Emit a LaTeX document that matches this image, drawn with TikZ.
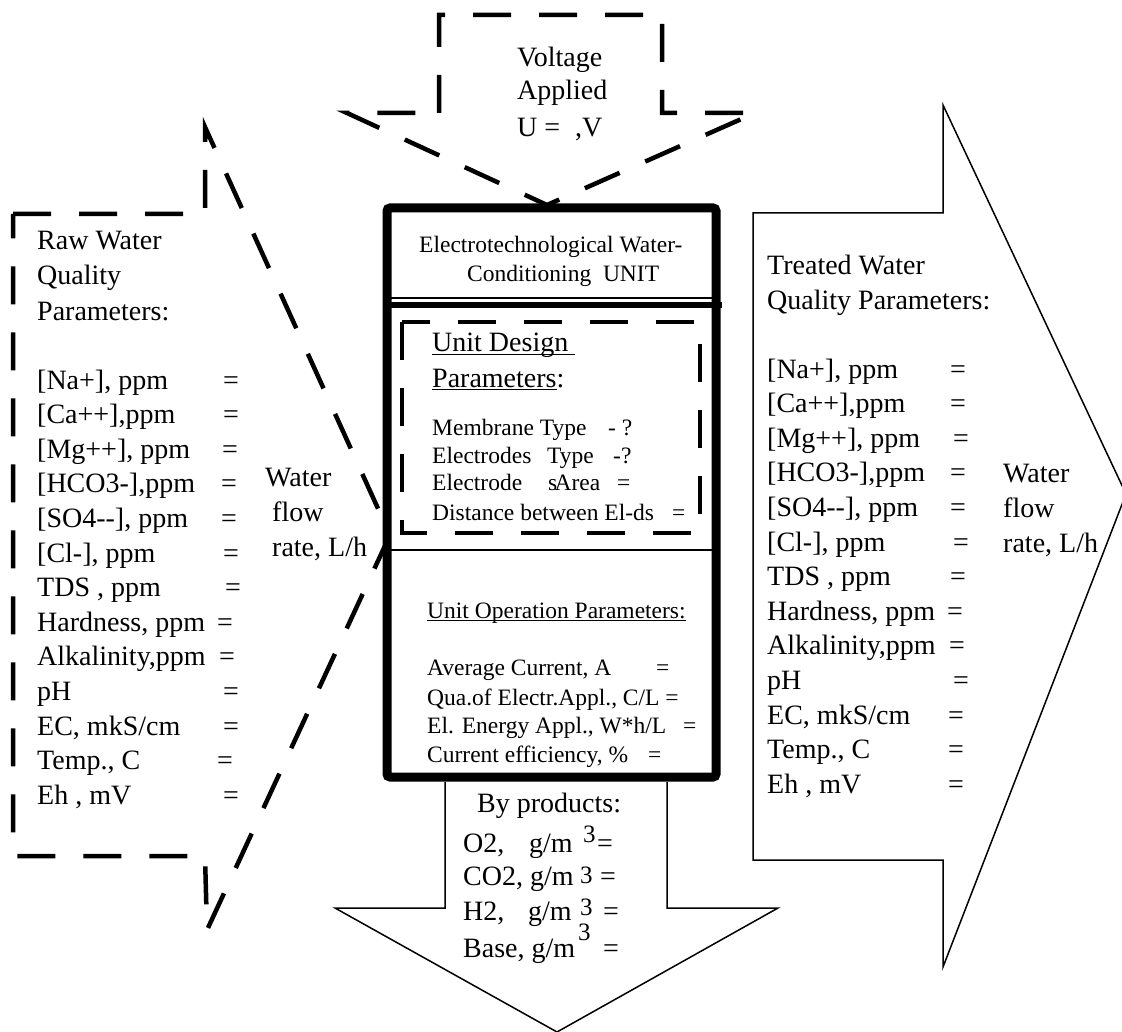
\documentclass[tikz,border=0pt]{standalone}
\usepackage{fontspec}
\setmainfont{Liberation Serif}
\newcommand\ulx[1]{\setbox0\hbox{#1}\rlap{\rule[-3pt]{\wd0}{1.2pt}}\box0}
\begin{document}
\begin{tikzpicture}[x=1pt,y=-1pt,
  txt/.style={anchor=base west, inner sep=0pt, font=\fontsize{28}{34}\selectfont},
  stxt/.style={anchor=base west, inner sep=0pt, font=\fontsize{23.5}{28}\selectfont},
  sup/.style={anchor=base west, inner sep=0pt, font=\fontsize{25}{30}\selectfont},
  dsh/.style={line width=4.5pt, dash pattern=on 38pt off 28pt, line join=miter},
  thinarrow/.style={line width=1.5pt, line join=miter}]
\useasboundingbox (0,0) rectangle (1122,1032);
\clip (0,0) rectangle (1122,1032);

% right (treated water) arrow
\draw[thinarrow, fill=white] (753,213) -- (943,213) -- (943,105) -- (1126,494) -- (943,967) -- (943,860) -- (753,860) -- cycle;
% bottom (by-products) arrow
\draw[thinarrow, fill=white] (445,782) -- (445,908) -- (335,908) -- (557,1032) -- (778,908) -- (667,908) -- (667,782);
% top (voltage) arrow
\draw[dsh] (439,113) -- (439,15) -- (662,15) -- (662,113) -- (755,113) -- (547,205) -- (347,113) -- cycle;
% left (raw water) arrow
\draw[dsh] (13,214) -- (205,214) -- (205,127) -- (390,535) -- (207,930) -- (205,856) -- (13,856) -- cycle;

% central unit box
\draw[line width=9pt, fill=white, rounded corners=3pt] (387,208) rectangle (716,777);
\draw[line width=1.3pt] (391,298) -- (712,298);
\draw[line width=6.5pt] (387,305) -- (722,305);
\draw[line width=1.3pt] (391,550) -- (712,550);
\draw[line width=4pt, dash pattern=on 38pt off 28pt, line join=miter] (402,322) rectangle (700,533);

% top texts
\node[txt] (v1) at (517,67) {Voltage};
\node[txt] (v2) at (517,100) {Applied};
\node[txt] (v3) at (517,137) {U =};
\node[txt] (v4) at (575,137) {,V};

% unit title
\node[stxt] (t1) at (419,253) {Electrotechnological Water-};
\node[stxt] (t2) at (467,282) {Conditioning\ \ UNIT};

% design parameters
\node[txt] (d1) at (432,352) {\ulx{Unit Design\ }};
\node[txt] (d2) at (432,387) {\ulx{Parameters}:};
\node[stxt] (d3) at (432,435) {Membrane Type};
\node[stxt] (d3e) at (608,435) {- ?};
\node[stxt] (d4) at (432,463) {Electrodes};
\node[stxt] (d4b) at (547,463) {Type};
\node[stxt] (d4e) at (613,463) {-?};
\node[stxt] (d5) at (432,490) {Electrode};
\node[stxt] (d5b) at (548,490) {s\kern-0.12em Area};
\node[stxt] (d5e) at (617,490) {=};
\node[stxt] (d6) at (432,520) {Distance between El-ds};
\node[stxt] (d6e) at (672,520) {=};

% operation parameters
\node[stxt] (o0) at (427,618) {\ulx{Unit Operation Parameters:}};
\node[stxt] (o1) at (427,675) {Average Current, A};
\node[stxt] (o1e) at (656,675) {=};
\node[stxt] (o2) at (427,705) {Qua.of Electr.Appl., C/L =};
\node[stxt] (o3) at (427,733) {El. Energy Appl., W*h/L};
\node[stxt] (o3e) at (683,733) {=};
\node[stxt] (o4) at (427,762) {Current efficiency, \%};
\node[stxt] (o4e) at (648,762) {=};

% by-products
\node[txt] (b0) at (477,812) {By products:};
\node[txt] (b1) at (463,852) {O2,};
\node[txt] (b1b) at (529,852) {g/m};
\node[sup] (b1s) at (583,842) {3};
\node[txt] (b1e) at (597,852) {=};
\node[txt] (b2) at (463,885) {CO2, g/m};
\node[sup] (b2s) at (580,883) {3};
\node[txt] (b2e) at (600,885) {=};
\node[txt] (b3) at (463,920) {H2,};
\node[txt] (b3b) at (528,920) {g/m};
\node[sup] (b3s) at (580,915) {3};
\node[txt] (b3e) at (603,920) {=};
\node[txt] (b4) at (463,957) {Base, g/m};
\node[sup] (b4s) at (578,940) {3};
\node[txt] (b4e) at (603,957) {=};

% raw water parameters
\node[txt] (r1) at (37,250) {Raw Water};
\node[txt] (r2) at (37,285) {Quality};
\node[txt] (r3) at (37,320) {Parameters:};
\node[txt] (ra) at (37,389) {[Na+], ppm};        \node[txt] (rae) at (223,389) {=};
\node[txt] (rb) at (37,423.6) {[Ca++],ppm};      \node[txt] (rbe) at (223,423.6) {=};
\node[txt] (rc) at (37,458.2) {[Mg++], ppm};     \node[txt] (rce) at (222,458.2) {=};
\node[txt] (rd) at (37,492.8) {[HCO3-],ppm};     \node[txt] (rde) at (221,492.8) {=};
\node[txt] (re) at (37,527.4) {[SO4-{}-], ppm};  \node[txt] (ree) at (221,527.4) {=};
\node[txt] (rf) at (37,562) {[Cl-], ppm};        \node[txt] (rfe) at (223,562) {=};
\node[txt] (rg) at (37,596.6) {TDS , ppm};       \node[txt] (rge) at (225,596.6) {=};
\node[txt] (rh) at (37,631.2) {Hardness, ppm};   \node[txt] (rhe) at (217,631.2) {=};
\node[txt] (ri) at (37,665.8) {Alkalinity,ppm};  \node[txt] (rie) at (219,665.8) {=};
\node[txt] (rj) at (37,700.4) {pH};              \node[txt] (rje) at (223,700.4) {=};
\node[txt] (rk) at (37,735) {EC, mkS/cm};        \node[txt] (rke) at (223,735) {=};
\node[txt] (rl) at (37,769.6) {Temp., C};        \node[txt] (rle) at (217,769.6) {=};
\node[txt] (rm) at (37,804.2) {Eh , mV};         \node[txt] (rme) at (223,804.2) {=};
\node[txt] (rw1) at (265,486) {Water};
\node[txt] (rw2) at (272,521) {flow};
\node[txt] (rw3) at (272,556) {rate, L/h};

% treated water parameters
\node[txt] (q1) at (767,275) {Treated Water};
\node[txt] (q2) at (767,310) {Quality Parameters:};
\node[txt] (qa) at (767,378) {[Na+], ppm};        \node[txt] (qae) at (950,378) {=};
\node[txt] (qb) at (767,412.6) {[Ca++],ppm};      \node[txt] (qbe) at (950,412.6) {=};
\node[txt] (qc) at (767,447.2) {[Mg++], ppm};     \node[txt] (qce) at (953,447.2) {=};
\node[txt] (qd) at (767,481.8) {[HCO3-],ppm};     \node[txt] (qde) at (950,481.8) {=};
\node[txt] (qe) at (767,516.4) {[SO4-{}-], ppm};  \node[txt] (qee) at (950,516.4) {=};
\node[txt] (qf) at (767,551) {[Cl-], ppm};        \node[txt] (qfe) at (953,551) {=};
\node[txt] (qg) at (767,585.6) {TDS , ppm};       \node[txt] (qge) at (950,585.6) {=};
\node[txt] (qh) at (767,620.2) {Hardness, ppm};   \node[txt] (qhe) at (947,620.2) {=};
\node[txt] (qi) at (767,654.8) {Alkalinity,ppm};  \node[txt] (qie) at (949,654.8) {=};
\node[txt] (qj) at (767,689.4) {pH};              \node[txt] (qje) at (953,689.4) {=};
\node[txt] (qk) at (767,724) {EC, mkS/cm};        \node[txt] (qke) at (948,724) {=};
\node[txt] (ql) at (767,758.6) {Temp., C};        \node[txt] (qle) at (948,758.6) {=};
\node[txt] (qm) at (767,793.2) {Eh , mV};         \node[txt] (qme) at (948,793.2) {=};
\node[txt] (qw1) at (1003,482) {Water};
\node[txt] (qw2) at (1003,517) {flow};
\node[txt] (qw3) at (1003,552) {rate, L/h};
\end{tikzpicture}
\end{document}
